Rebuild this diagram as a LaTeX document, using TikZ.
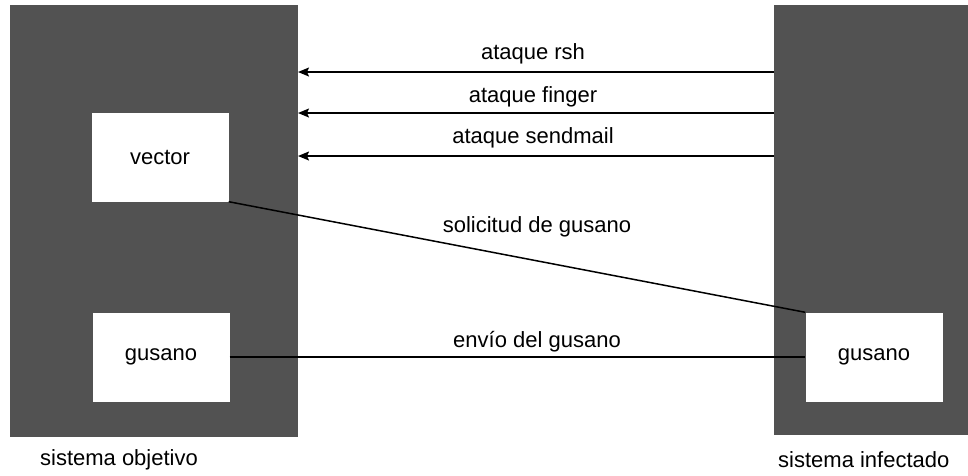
\documentclass[tikz,border=0pt]{standalone}
\usepackage{fontspec}
\setmainfont{Liberation Sans}
\usetikzlibrary{arrows.meta}
\begin{document}
\begin{tikzpicture}[x=1pt, y=-1pt,
    every node/.style={font=\fontsize{22}{26}\selectfont},
    sistema/.style={rectangle, fill=black!68, inner sep=0pt},
    caja/.style={rectangle, fill=white, inner sep=0pt, minimum width=137pt, minimum height=89pt},
    flecha/.style={line width=1.5pt, -{Stealth[length=11pt, width=9pt, inset=2pt]}},
    enlace/.style={line width=1.5pt}]
    \path[use as bounding box] (0,0) rectangle (968,475);
    \clip (0,0) rectangle (968,475);
    \node[sistema, minimum width=288pt, minimum height=432pt] (SO) at (154,221) {};
    \node[sistema, minimum width=200pt, minimum height=430pt] (SI) at (874,220) {};

    \node[caja] (vector) at (160,157) {vector};
    \node[caja] (gusanoO) at (161,357) {gusano};
    \node[caja] (gusanoI) at (874,357) {gusano};

    \node (objetivo) at (119,460) {sistema objetivo};
    \node[anchor=west, inner sep=0pt] (infectado) at (778,460) {sistema infectado};

    % ataques
    \foreach \n/\y/\ty/\txt in {1/72/54/ataque rsh, 2/113/97/ataque finger, 3/156/138/ataque sendmail} {
        \coordinate (desde\n) at (774,\y);
        \coordinate (hasta\n) at (298,\y);
        \draw[flecha] (desde\n) -- (hasta\n);
        \node (ataque\n) at (533,\ty) {\txt};
    }

    \draw[enlace] (vector.south east) -- (gusanoI.north west);
    \node (solicitud) at (537,227) {solicitud de gusano};
    \draw[enlace] (gusanoO.east) -- (gusanoI.west);
    \node (envio) at (537,342) {envío del gusano};
\end{tikzpicture}
\end{document}
